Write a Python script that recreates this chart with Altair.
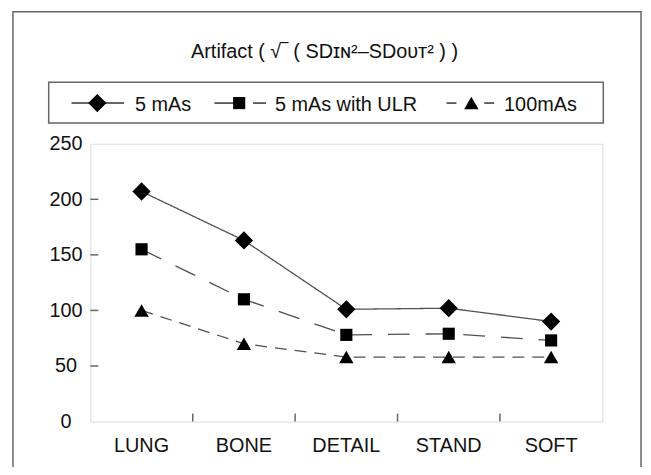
import altair as alt
import pandas as pd

# ---- data ----
categories = ["LUNG", "BONE", "DETAIL", "STAND", "SOFT"]
series_names = ["5 mAs", "5 mAs with ULR", "100mAs"]
values_5mas = [207, 163, 101, 102, 90]
values_ulr = [155, 110, 78, 79, 73]
values_100mas = [100, 70, 58, 58, 58]
y_tick_values = [0, 50, 100, 150, 200, 250]
title_text = "Artifact ( √‾ ( SDɪɴ²–SDᴏᴜᴛ² ) )"

# ---- styling ----
W, H = 516, 280
FONT = "Liberation Sans"
FS = 20
FRAME = "#666666"
LINE = "#505050"
shapes = ["diamond", "square", "triangle-up"]
sizes = [340, 150, 210]
dashes = [[1, 0], [22, 16], [12, 8]]

rows = []
for name, vals in zip(series_names, [values_5mas, values_ulr, values_100mas]):
    for c, v in zip(categories, vals):
        rows.append({"series": name, "cat": c, "value": v})
df = pd.DataFrame(rows)

x_scale = alt.Scale(type="band", domain=categories, paddingInner=0, paddingOuter=0)
y_scale = alt.Scale(domain=[0, 250], nice=False, zero=True)
shape_scale = alt.Scale(domain=series_names, range=shapes)
size_scale = alt.Scale(type="ordinal", domain=series_names, range=sizes)
dash_scale = alt.Scale(domain=series_names, range=dashes)

x_axis = alt.Axis(title=None, labelAngle=0, ticks=False, domain=False, grid=False,
                  labelFontSize=FS, labelFont=FONT, labelPadding=14, labelColor="#111")
y_axis = alt.Axis(title=None, values=y_tick_values, ticks=False, domain=False, grid=False,
                  labelAlign="center", labelBaseline="middle", labelPadding=25,
                  labelFontSize=FS, labelFont=FONT, labelColor="#111")

base = alt.Chart(df)
lines = base.mark_line(color=LINE, strokeWidth=1.3).encode(
    x=alt.X("cat:N", sort=categories, scale=x_scale, axis=x_axis),
    y=alt.Y("value:Q", scale=y_scale, axis=y_axis),
    strokeDash=alt.StrokeDash("series:N", scale=dash_scale, legend=None),
    detail="series:N",
)
points = base.mark_point(filled=True, color="black", opacity=1, strokeWidth=0).encode(
    x=alt.X("cat:N", sort=categories, scale=x_scale, axis=x_axis),
    y=alt.Y("value:Q", scale=y_scale, axis=y_axis),
    shape=alt.Shape("series:N", scale=shape_scale, legend=None),
    size=alt.Size("series:N", scale=size_scale, legend=None),
)

# inward ticks
ytick_df = pd.DataFrame({"value": y_tick_values[1:-1]})
yticks = alt.Chart(ytick_df).mark_rule(color=FRAME, strokeWidth=1.5).encode(
    y=alt.Y("value:Q", scale=y_scale, axis=y_axis),
    x=alt.value(0), x2=alt.value(8),
)
xtick_df = pd.DataFrame({"cat": categories[1:]})
xticks = alt.Chart(xtick_df).mark_rule(color=FRAME, strokeWidth=1.5).encode(
    x=alt.X("cat:N", sort=categories, scale=x_scale, axis=x_axis, bandPosition=0),
    y=alt.value(H), y2=alt.value(H - 8),
)

main = alt.layer(lines, points, yticks, xticks)

one = pd.DataFrame({"k": [0]})

outer = alt.Chart(one).mark_rect(fillOpacity=0, stroke=FRAME, strokeWidth=1.5).encode(
    x=alt.value(-78), x2=alt.value(555), y=alt.value(-133), y2=alt.value(345)
)
title = alt.Chart(one).mark_text(align="center", baseline="alphabetic", fontSize=FS,
                                 font=FONT, color="#111").encode(
    x=alt.value(236), y=alt.value(-86), text=alt.value(title_text)
)
legend_box = alt.Chart(one).mark_rect(fillOpacity=0, stroke=FRAME, strokeWidth=1.5).encode(
    x=alt.value(-42), x2=alt.value(517), y=alt.value(-62), y2=alt.value(-21)
)

LY = -41
seg_df = pd.DataFrame({
    "x1": [-19, 125, 164, 359, 397],
    "x2": [34, 150, 177, 369, 407],
})
legend_segs = alt.Chart(seg_df).mark_rule(color="#333", strokeWidth=1.5).encode(
    x=alt.X("x1:Q", scale=None, axis=None), x2="x2:Q", y=alt.value(LY)
)
mk_df = pd.DataFrame({"series": series_names, "px": [7, 150, 384]})
legend_marks = alt.Chart(mk_df).mark_point(filled=True, color="black", opacity=1, strokeWidth=0).encode(
    x=alt.X("px:Q", scale=None, axis=None), y=alt.value(LY),
    shape=alt.Shape("series:N", scale=shape_scale, legend=None),
    size=alt.Size("series:N", scale=size_scale, legend=None),
)
lab_df = pd.DataFrame({"series": series_names, "lx": [45, 186, 417]})
legend_labels = alt.Chart(lab_df).mark_text(align="left", baseline="alphabetic", fontSize=FS,
                                            font=FONT, color="#111").encode(
    x=alt.X("lx:Q", scale=None, axis=None), y=alt.value(-33), text="series:N"
)

chart = alt.layer(
    outer, title, legend_box, legend_segs, legend_marks, legend_labels, main
).resolve_scale(x="independent").properties(
    width=W, height=H,
    autosize=alt.AutoSizeParams(type="none"),
    padding={"left": 83, "top": 135, "right": 41, "bottom": 44},
).configure_view(stroke=FRAME, strokeWidth=1.5).configure(background="white")

chart.save("out.html", embed_options={"renderer": "svg", "actions": False})
